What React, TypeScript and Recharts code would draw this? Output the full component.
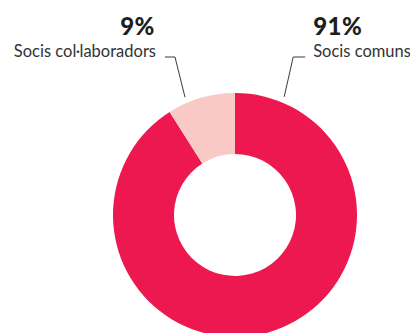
import React from 'react';
import { PieChart, Pie, Cell } from 'recharts';

const names = ['Socis comuns', 'Socis col·laboradors'];
const values = [91, 9];
const colors = ['#EE1850', '#F9C9C6'];

const data = names.map((name, i) => ({ name, value: values[i] }));

const FONT = 'Lato, "Noto Sans", sans-serif';

const renderLabel = (props: any) => {
  const { cx, cy, outerRadius, index, value, name } = props;
  const right = index === 0;
  const ang = ((right ? 67.4 : 113) * Math.PI) / 180;
  const r0 = outerRadius + 6;
  const x0 = cx + r0 * Math.cos(ang);
  const y0 = cy - r0 * Math.sin(ang);
  const x1 = right ? x0 + 9 : x0 - 10;
  const y1 = cy - 158;
  const x2 = right ? x1 + 12 : x1 - 10;
  const tx = right ? x2 + 8 : x2 - 9;
  return (
    <g>
      <polyline
        points={`${x0},${y0} ${x1},${y1} ${x2},${y1}`}
        fill="none"
        stroke="#3a3a3a"
        strokeWidth={1}
      />
      <text
        x={right ? tx : tx - 1}
        y={y1 - 22}
        textAnchor={right ? 'start' : 'end'}
        fontFamily={FONT}
        fontWeight={900}
        fontSize={24}
        fill="#1e1e1e"
        letterSpacing={0.5}
      >
        {`${value}%`}
      </text>
      <text
        x={tx}
        y={y1}
        textAnchor={right ? 'start' : 'end'}
        fontFamily={FONT}
        fontSize={16.5}
        fill="#333"
      >
        {name}
      </text>
    </g>
  );
};

export default function App() {
  return (
    <div style={{ position: 'absolute', left: 0, top: 0, background: '#fff' }}>
      <PieChart width={410} height={333} margin={{ top: 0, right: 0, bottom: 0, left: 0 }}>
        <Pie
          data={data}
          dataKey="value"
          nameKey="name"
          cx={235}
          cy={215}
          innerRadius={61}
          outerRadius={122}
          startAngle={90}
          endAngle={-270}
          stroke="none"
          isAnimationActive={false}
          labelLine={false}
          label={renderLabel}
        >
          {data.map((d, i) => (
            <Cell key={d.name} fill={colors[i]} />
          ))}
        </Pie>
      </PieChart>
    </div>
  );
}
